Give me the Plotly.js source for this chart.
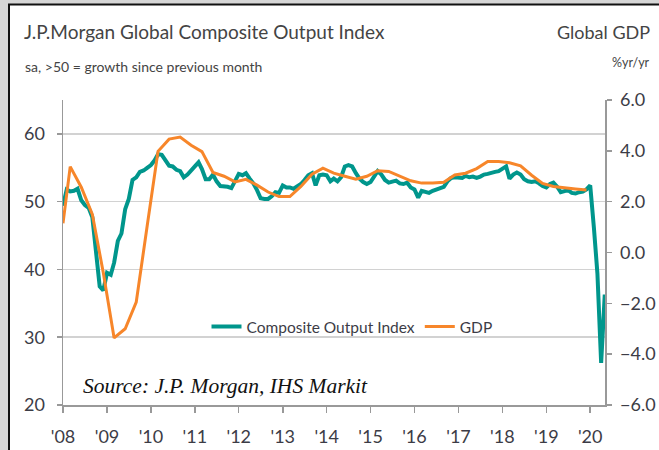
<!DOCTYPE html>
<html>
<head>
<meta charset="utf-8">
<script src="https://cdn.plot.ly/plotly-3.0.1.min.js"></script>
<style>
  html, body { margin: 0; padding: 0; background: #d6d6d6; }
  #chart { width: 659px; height: 450px; }
</style>
</head>
<body>
<div id="chart"></div>
<script>
// ---- Data ----
const pmiStart = [2008, 1]; // first month of the monthly series (Jan 2008)
const pmi2008 = [49.4, 51.8, 51.5, 51.6, 51.9, 50.2, 49.5, 49.1, 47.7, 42.0, 37.5, 36.9];
const pmi2009 = [39.5, 39.2, 41.0, 44.2, 45.3, 48.9, 50.4, 53.2, 53.6, 54.4, 54.6, 55.0];
const pmi2010 = [55.4, 56.1, 57.0, 56.9, 56.2, 55.3, 55.2, 54.7, 54.5, 53.6, 54.0, 54.5];
const pmi2011 = [55.2, 55.8, 54.8, 53.3, 53.3, 54.0, 53.0, 52.3, 52.3, 52.2, 52.0, 52.9];
const pmi2012 = [54.1, 53.9, 54.2, 53.4, 52.7, 51.7, 50.5, 50.4, 50.4, 50.8, 51.4, 51.3];
const pmi2013 = [52.4, 52.1, 52.1, 51.9, 52.3, 52.6, 53.2, 53.9, 54.2, 52.4, 53.9, 54.0];
const pmi2014 = [53.9, 53.0, 53.4, 53.0, 53.6, 55.2, 55.4, 55.2, 54.2, 53.4, 52.9, 52.6];
const pmi2015 = [52.9, 53.9, 54.5, 54.0, 53.2, 52.8, 53.0, 53.1, 52.7, 52.6, 52.8, 52.1];
const pmi2016 = [51.8, 50.6, 51.6, 51.5, 51.3, 51.6, 51.8, 51.9, 52.2, 53.0, 53.5, 53.6];
const pmi2017 = [53.6, 53.5, 53.8, 53.6, 53.7, 53.5, 53.7, 54.0, 54.1, 54.3, 54.4, 54.5];
const pmi2018 = [54.9, 55.2, 53.4, 54.0, 54.3, 54.0, 53.3, 53.0, 52.9, 53.0, 52.7, 52.3];
const pmi2019 = [52.1, 52.6, 52.8, 52.2, 51.4, 51.6, 51.7, 51.3, 51.2, 51.4, 51.5, 51.8];
const pmi2020 = [52.4, 46.1, 39.4, 26.2, 36.3];

const gdpDates = [
  "2008-01-01","2008-03-01","2008-06-01","2008-09-01","2008-12-01",
  "2009-03-01","2009-06-01","2009-09-01","2009-12-01",
  "2010-03-01","2010-06-01","2010-09-01","2010-12-01",
  "2011-03-01","2011-06-01","2011-09-01","2011-12-01",
  "2012-03-01","2012-06-01","2012-09-01","2012-12-01",
  "2013-03-01","2013-06-01","2013-09-01","2013-12-01",
  "2014-03-01","2014-06-01","2014-09-01","2014-12-01",
  "2015-03-01","2015-06-01","2015-09-01","2015-12-01",
  "2016-03-01","2016-06-01","2016-09-01","2016-12-01",
  "2017-03-01","2017-06-01","2017-09-01","2017-12-01",
  "2018-03-01","2018-06-01","2018-09-01","2018-12-01",
  "2019-03-01","2019-06-01","2019-09-01","2019-12-01"
];
const gdpValues = [
  1.15, 3.38, 2.57, 1.50, -0.80,
  -3.36, -3.00, -1.95, 1.05,
  3.98, 4.46, 4.54, 4.22,
  3.97, 3.15, 3.00, 2.78,
  2.88, 2.65, 2.38, 2.20,
  2.20, 2.60, 3.08, 3.32,
  3.12, 3.00, 2.88, 3.00,
  3.22, 3.19, 2.99, 2.82,
  2.73, 2.73, 2.76, 3.05,
  3.12, 3.30, 3.58, 3.58,
  3.53, 3.41, 3.04, 2.72,
  2.60, 2.54, 2.50, 2.46
];

const yearTicks = ["2008-01-01","2009-01-01","2010-01-01","2011-01-01","2012-01-01","2013-01-01",
  "2014-01-01","2015-01-01","2016-01-01","2017-01-01","2018-01-01","2019-01-01","2020-01-01"];
const leftTicks = [20, 30, 40, 50, 60];
const rightTicks = [-6, -4, -2, 0, 2, 4, 6];

// ---- Build monthly dates for the PMI series ----
const pmiValues = [].concat(pmi2008, pmi2009, pmi2010, pmi2011, pmi2012, pmi2013, pmi2014,
  pmi2015, pmi2016, pmi2017, pmi2018, pmi2019, pmi2020);
const pmiDates = pmiValues.map((_, i) => {
  const total = (pmiStart[1] - 1) + i;
  const y = pmiStart[0] + Math.floor(total / 12);
  const m = (total % 12) + 1;
  return y + "-" + String(m).padStart(2, "0") + "-01";
});

const FONT = "Lato, 'Noto Sans', sans-serif";
const TXT = "#3c3c46";
const TEAL = "#00968c";
const ORANGE = "#f7862a";

// plot area in pixels: x 63..605, y 100..405
const PL = 63, PR = 605, PT = 100, PB = 405;
const px = v => (v - PL) / (PR - PL);
const py = v => (PB - v) / (PB - PT);

const traces = [
  {
    x: pmiDates, y: pmiValues, type: "scatter", mode: "lines",
    name: "Composite Output Index", yaxis: "y",
    line: { color: TEAL, width: 4 }
  },
  {
    x: gdpDates, y: gdpValues, type: "scatter", mode: "lines",
    name: "GDP", yaxis: "y2",
    line: { color: ORANGE, width: 3 }
  }
];

const layout = {
  width: 659, height: 450,
  margin: { l: PL, r: 659 - PR, t: PT, b: 450 - PB, pad: 0 },
  paper_bgcolor: "#d6d6d6",
  plot_bgcolor: "rgba(0,0,0,0)",
  font: { family: FONT, color: TXT, size: 17 },
  showlegend: true,
  title: {
    text: "J.P.Morgan Global Composite Output Index",
    font: { family: FONT, size: 19, color: "#444" },
    xref: "container", yref: "container",
    x: 24 / 659, xanchor: "left",
    y: 1 - 32 / 450, yanchor: "middle"
  },
  legend: {
    orientation: "h",
    x: px(352), xanchor: "center",
    y: py(327), yanchor: "middle",
    bgcolor: "rgba(0,0,0,0)",
    font: { family: FONT, size: 15.5, color: TXT },
    itemwidth: 30
  },
  xaxis: {
    type: "date",
    range: ["2008-01-01", "2020-05-03"],
    tickvals: yearTicks,
    tickformat: "'%y",
    ticks: "outside", ticklen: 6, tickwidth: 1.5, tickcolor: "#999",
    ticklabelstandoff: 9,
    showline: true, linecolor: "#999", linewidth: 1.5,
    showgrid: false, zeroline: false,
    tickfont: { family: FONT, size: 18, color: TXT }
  },
  yaxis: {
    range: [20, 65],
    tickvals: leftTicks,
    ticks: "outside", ticklen: 5, tickwidth: 1.5, tickcolor: "#999",
    ticklabelstandoff: 8,
    showline: true, linecolor: "#999", linewidth: 1.5,
    showgrid: true, gridcolor: "#d2d2d2", gridwidth: 1.5,
    zeroline: false,
    tickfont: { family: FONT, size: 18, color: TXT }
  },
  yaxis2: {
    overlaying: "y", side: "right",
    range: [-6, 6],
    tickvals: rightTicks,
    tickformat: ".1f",
    ticks: "outside", ticklen: 5, tickwidth: 1.5, tickcolor: "#999",
    ticklabelstandoff: 5,
    showline: true, linecolor: "#999", linewidth: 1.5,
    showgrid: false, zeroline: false,
    tickfont: { family: FONT, size: 18, color: TXT }
  },
  shapes: [
    {
      type: "rect", xref: "paper", yref: "paper", layer: "below",
      x0: px(9), x1: px(700), y0: py(470), y1: py(4.5),
      fillcolor: "#ffffff", line: { color: "#111", width: 2 }
    }
  ],
  annotations: [
    {
      text: "sa, >50 = growth since previous month",
      xref: "paper", yref: "paper", x: px(23), y: py(66),
      xanchor: "left", yanchor: "middle", showarrow: false,
      font: { family: FONT, size: 14, color: "#444" }
    },
    {
      text: "Global GDP",
      xref: "paper", yref: "paper", x: px(652), y: py(32),
      xanchor: "right", yanchor: "middle", showarrow: false,
      font: { family: FONT, size: 18, color: "#444" }
    },
    {
      text: "%yr/yr",
      xref: "paper", yref: "paper", x: px(652), y: py(62),
      xanchor: "right", yanchor: "middle", showarrow: false,
      font: { family: FONT, size: 12.5, color: "#444" }
    },
    {
      text: "<i>Source: J.P. Morgan, IHS Markit</i>",
      xref: "paper", yref: "paper", x: px(81), y: py(386),
      xanchor: "left", yanchor: "middle", showarrow: false,
      font: { family: "'Liberation Serif', 'Times New Roman', serif", size: 21.5, color: "#111" }
    }
  ]
};

Plotly.newPlot("chart", traces, layout, { displayModeBar: false, staticPlot: true });
</script>
</body>
</html>
